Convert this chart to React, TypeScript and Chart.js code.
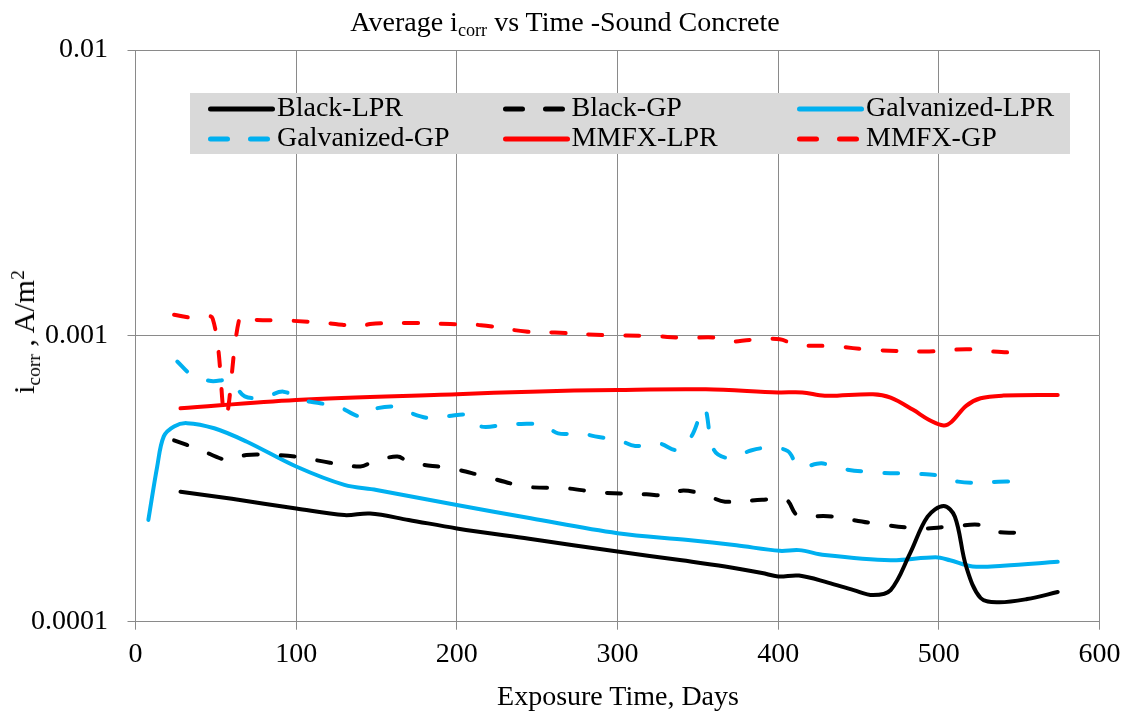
import React, { useEffect, useRef } from "react";
import { Chart, registerables } from "chart.js";

Chart.register(...registerables);

const W = 1125;
const H = 715;
const FONT = '"Liberation Serif", "Times New Roman", serif';

// ---- Data ----
const xTicks = [0, 100, 200, 300, 400, 500, 600];
const yTicks = [0.0001, 0.001, 0.01];

const seriesLabels = ["Black-LPR", "Black-GP", "Galvanized-LPR", "Galvanized-GP", "MMFX-LPR", "MMFX-GP"];

const blackLprDays = [28, 60, 100, 130, 146, 170, 200, 245, 300, 340, 367, 390, 400, 413, 431, 447, 459, 470, 482, 493, 503, 510, 517, 526, 537, 555, 574];
const blackLprValues = [2.85e-4, 2.69e-4, 2.49e-4, 2.36e-4, 2.39e-4, 2.27e-4, 2.12e-4, 1.95e-4, 1.76e-4, 1.64e-4, 1.56e-4, 1.48e-4, 1.44e-4, 1.45e-4, 1.37e-4, 1.29e-4, 1.24e-4, 1.29e-4, 1.73e-4, 2.33e-4, 2.54e-4, 2.33e-4, 1.56e-4, 1.21e-4, 1.17e-4, 1.2e-4, 1.27e-4];

const blackGpDays = [24, 40, 57, 69, 85, 100, 121, 140, 148, 163, 171, 196, 214, 243, 268, 290, 318, 332, 341, 355, 367, 390, 405, 412, 431, 459, 489, 510, 526, 537, 552];
const blackGpValues = [4.31e-4, 4.0e-4, 3.68e-4, 3.83e-4, 3.83e-4, 3.78e-4, 3.6e-4, 3.49e-4, 3.63e-4, 3.78e-4, 3.6e-4, 3.44e-4, 3.26e-4, 2.97e-4, 2.93e-4, 2.83e-4, 2.79e-4, 2.77e-4, 2.88e-4, 2.77e-4, 2.63e-4, 2.67e-4, 2.67e-4, 2.36e-4, 2.34e-4, 2.21e-4, 2.12e-4, 2.16e-4, 2.18e-4, 2.06e-4, 2.05e-4];

const galvLprDays = [8, 13.5, 17.6, 24, 32, 49, 69, 100, 130, 150, 200, 246, 300, 344, 374, 401, 413, 429, 470, 498, 507, 521, 540, 574];
const galvLprValues = [2.27e-4, 3.49e-4, 4.45e-4, 4.82e-4, 4.95e-4, 4.75e-4, 4.27e-4, 3.49e-4, 3.01e-4, 2.89e-4, 2.56e-4, 2.3e-4, 2.04e-4, 1.93e-4, 1.85e-4, 1.77e-4, 1.78e-4, 1.71e-4, 1.64e-4, 1.68e-4, 1.64e-4, 1.56e-4, 1.57e-4, 1.62e-4];

const galvGpDays = [26, 35, 47, 59, 68, 80, 92, 103, 115, 126, 140, 146, 161, 169, 183, 195, 207, 215, 229, 240, 254, 263, 277, 286, 301, 311, 326, 337, 346, 354, 360, 370, 383, 394, 406, 413, 427, 438, 459, 487, 501, 512, 526, 537, 552];
const galvGpValues = [8.13e-4, 7.3e-4, 6.95e-4, 6.96e-4, 6.14e-4, 6.1e-4, 6.38e-4, 5.97e-4, 5.81e-4, 5.66e-4, 5.22e-4, 5.5e-4, 5.66e-4, 5.43e-4, 5.15e-4, 5.24e-4, 5.28e-4, 4.82e-4, 4.88e-4, 4.92e-4, 4.88e-4, 4.56e-4, 4.56e-4, 4.45e-4, 4.31e-4, 4.12e-4, 4.2e-4, 3.99e-4, 4.45e-4, 5.58e-4, 3.99e-4, 3.73e-4, 3.97e-4, 4.06e-4, 3.95e-4, 3.49e-4, 3.58e-4, 3.44e-4, 3.33e-4, 3.29e-4, 3.24e-4, 3.09e-4, 3.06e-4, 3.09e-4, 3.09e-4];

const mmfxLprDays = [28, 100, 200, 246, 300, 355, 400, 415, 429, 459, 470, 484, 494, 503, 508, 517, 526, 540, 574];
const mmfxLprValues = [5.58e-4, 5.97e-4, 6.25e-4, 6.38e-4, 6.47e-4, 6.5e-4, 6.34e-4, 6.34e-4, 6.17e-4, 6.25e-4, 6.08e-4, 5.51e-4, 5.08e-4, 4.86e-4, 5.01e-4, 5.69e-4, 6.05e-4, 6.18e-4, 6.21e-4];

const mmfxGpDays = [24, 36, 48, 56, 65, 72, 96, 121, 140, 146, 169, 196, 215, 243, 261, 293, 318, 344, 360, 369, 383, 401, 411, 434, 459, 494, 507, 519, 533, 545];
const mmfxGpValues = [1.185e-3, 1.154e-3, 1.15e-3, 5.22e-4, 1.17e-3, 1.14e-3, 1.13e-3, 1.106e-3, 1.078e-3, 1.1e-3, 1.11e-3, 1.1e-3, 1.09e-3, 1.035e-3, 1.027e-3, 1.005e-3, 1.0e-3, 9.84e-4, 9.87e-4, 9.55e-4, 9.68e-4, 9.73e-4, 9.3e-4, 9.2e-4, 8.93e-4, 8.82e-4, 8.93e-4, 8.98e-4, 8.82e-4, 8.74e-4];

// ---- Styles ----
const BLACK = "#000000";
const BLUE = "#00B0F0";
const RED = "#FF0000";
const seriesColors = [BLACK, BLACK, BLUE, BLUE, RED, RED];
const seriesDashed = [false, true, false, true, false, true];
const seriesDays = [blackLprDays, blackGpDays, galvLprDays, galvGpDays, mmfxLprDays, mmfxGpDays];
const seriesValues = [blackLprValues, blackGpValues, galvLprValues, galvGpValues, mmfxLprValues, mmfxGpValues];
const GRID = "#8a8a8a";

export default function App() {
  const ref = useRef<HTMLCanvasElement>(null);

  useEffect(() => {
    const datasets = seriesLabels.map((label, i) => ({
      label,
      data: seriesDays[i].map((d, k) => ({ x: d, y: seriesValues[i][k] })),
      borderColor: seriesColors[i],
      backgroundColor: seriesColors[i],
      borderWidth: 4,
      borderDash: seriesDashed[i] ? [14, 23] : [],
      borderCapStyle: "round" as const,
      borderJoinStyle: "round" as const,
      pointRadius: 0,
      tension: 0.35,
      fill: false,
    }));

    const chart = new Chart(ref.current!, {
      type: "line",
      data: { datasets },
      options: {
        animation: false,
        responsive: false,
        maintainAspectRatio: false,
        layout: { padding: { top: 50, right: 25.5, left: 0, bottom: 0 } },
        plugins: { legend: { display: false }, title: { display: false }, tooltip: { enabled: false } },
        scales: {
          x: {
            type: "linear",
            min: 0,
            max: 600,
            afterBuildTicks: (s: any) => {
              s.ticks = xTicks.map((v) => ({ value: v }));
            },
            afterFit: (s: any) => {
              s.height = H - 621.7;
              s.paddingLeft = 0;
              s.paddingRight = 0;
            },
            ticks: {
              color: "#000",
              font: { family: FONT, size: 28 },
              padding: 8,
              maxRotation: 0,
              callback: (v: any) => String(v),
            },
            grid: { color: GRID, lineWidth: 1, tickLength: 8, drawTicks: true },
            border: { color: GRID, width: 1 },
          },
          y: {
            type: "logarithmic",
            min: 0.0001,
            max: 0.01,
            afterBuildTicks: (s: any) => {
              s.ticks = yTicks.map((v) => ({ value: v }));
            },
            afterFit: (s: any) => {
              s.width = 135.5;
              s.paddingTop = 0;
              s.paddingBottom = 0;
            },
            ticks: {
              color: "#000",
              font: { family: FONT, size: 28 },
              padding: 19.5,
              callback: (v: any) => String(v),
            },
            grid: { color: GRID, lineWidth: 1, tickLength: 8, drawTicks: true },
            border: { color: GRID, width: 1 },
          },
        },
      },
    });
    return () => chart.destroy();
  }, []);

  const legendColW = 294.5;

  return (
    <div style={{ position: "fixed", left: 0, top: 0, width: W, height: H, background: "#fff", fontFamily: FONT, color: "#000", overflow: "hidden" }}>
      <canvas ref={ref} width={W} height={H} style={{ position: "absolute", left: 0, top: 0, width: W, height: H }} />

      {/* Title */}
      <div style={{ position: "absolute", left: 0, width: 1130, top: 6, textAlign: "center", fontSize: 28, lineHeight: "32px", whiteSpace: "nowrap" }}>
        Average i<sub style={{ fontSize: "0.65em", lineHeight: 0, verticalAlign: "-0.3em" }}>corr</sub> vs Time -Sound Concrete
      </div>

      {/* Y axis title */}
      <div style={{ position: "absolute", left: 24, top: 332, transform: "translate(-50%, -50%) rotate(-90deg)", fontSize: 30, lineHeight: "30px", whiteSpace: "nowrap" }}>
        i<sub style={{ fontSize: "0.65em", lineHeight: 0, verticalAlign: "-0.3em" }}>corr</sub> , A/m<sup style={{ fontSize: "0.65em", lineHeight: 0, verticalAlign: "0.5em" }}>2</sup>
      </div>

      {/* X axis title */}
      <div style={{ position: "absolute", left: 618, top: 680, transform: "translateX(-50%)", fontSize: 28, lineHeight: "32px", whiteSpace: "nowrap" }}>
        Exposure Time, Days
      </div>

      {/* Legend */}
      <div style={{ position: "absolute", left: 190, top: 93, width: 880, height: 61, background: "#D9D9D9" }}>
        {seriesLabels.map((label, i) => {
          const col = i % 3;
          const row = Math.floor(i / 3);
          const lx = 18 + col * legendColW;
          const cy = 16 + row * 29.5;
          return (
            <React.Fragment key={label}>
              <svg style={{ position: "absolute", left: lx, top: cy - 4 }} width={68} height={8}>
                <line
                  x1={2.5}
                  y1={4}
                  x2={seriesDashed[i] ? 62 : 64.5}
                  y2={4}
                  stroke={seriesColors[i]}
                  strokeWidth={5}
                  strokeLinecap="round"
                  strokeDasharray={seriesDashed[i] ? "17 23" : undefined}
                />
              </svg>
              <div style={{ position: "absolute", left: lx + 69, top: -1 + row * 30, fontSize: 28, lineHeight: "30px", whiteSpace: "nowrap" }}>
                {label}
              </div>
            </React.Fragment>
          );
        })}
      </div>
    </div>
  );
}
